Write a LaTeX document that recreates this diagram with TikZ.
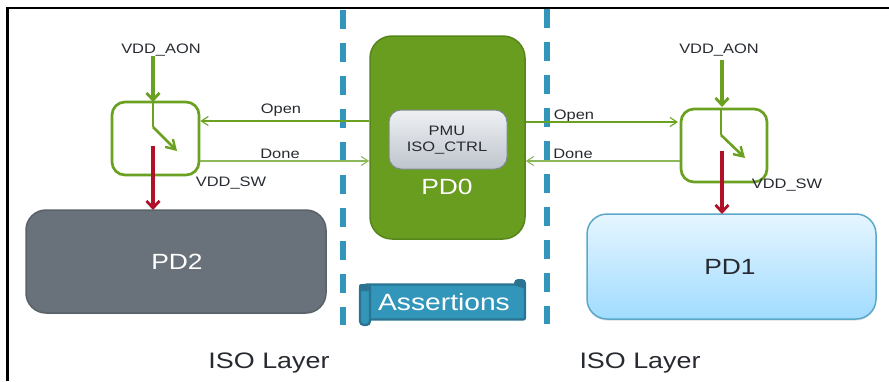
\documentclass[tikz,border=0pt]{standalone}
\usepackage{fontspec}
\setmainfont[FakeStretch=1.2]{Liberation Sans}
\usetikzlibrary{arrows.meta,shadows}
\definecolor{grn}{HTML}{6AA121}
\definecolor{grnlt}{HTML}{8DB85A}
\definecolor{pdgrn}{HTML}{699D1F}
\definecolor{pdgrnE}{HTML}{56851A}
\definecolor{slate}{HTML}{69727A}
\definecolor{slateE}{HTML}{596268}
\definecolor{blu}{HTML}{3296BA}
\definecolor{bluD}{HTML}{2A7391}
\definecolor{redd}{HTML}{B01028}
\definecolor{txt}{HTML}{262A30}
\definecolor{skyT}{HTML}{E6F5FF}
\definecolor{skyB}{HTML}{A0DCFF}
\definecolor{skyE}{HTML}{5BA8C8}
\definecolor{pmuT}{HTML}{EEF0F3}
\definecolor{pmuB}{HTML}{BFC5CD}
\definecolor{pmuE}{HTML}{7F8890}
\tikzset{
  x=1pt,y=-1pt,
  lbl/.style={anchor=base,inner sep=0pt,text=txt,font=\fontsize{13.7}{15}\selectfont},
  big/.style={anchor=base,inner sep=0pt,font=\fontsize{22}{24}\selectfont},
  iso/.style={anchor=base,inner sep=0pt,text=txt,font=\fontsize{22.4}{26}\selectfont},
  swbox/.style={draw=grn,line width=2.7pt,rounded corners=13pt,fill=white,inner sep=0pt},
  pd/.style={rounded corners=20pt,inner sep=0pt,line width=1.5pt},
  thin arr/.style={draw=grn,line width=1.3pt,-{Straight Barb[length=7pt,width=9pt,line width=1.1pt]}},
  thin done/.style={draw=grnlt,line width=1.5pt,-{Straight Barb[length=7pt,width=9pt,line width=1.1pt]}},
  pwr/.style={draw=grn,line width=3.4pt,-{Straight Barb[length=7pt,width=13pt,line width=2.8pt]}},
  red arr/.style={draw=redd,line width=3.4pt,-{Straight Barb[length=7pt,width=13pt,line width=2.8pt]}},
  sep/.style={draw=blu,line width=6pt,dash pattern=on 19pt off 14pt},
}
\begin{document}
\begin{tikzpicture}
\useasboundingbox (0,0) rectangle (889,381);
% frame
\draw[line width=2.4pt,line cap=butt] (7.5,381) -- (7.5,8) -- (889,8);
% separators
\coordinate (sepLa) at (342.5,10);
\coordinate (sepLb) at (342.5,325);
\coordinate (sepRa) at (546.5,9);
\coordinate (sepRb) at (546.5,324);
\draw[sep] (sepLa) -- (sepLb);
\draw[sep] (sepRa) -- (sepRb);
% power domains
\node[pd,draw=pdgrnE,fill=pdgrn,minimum width=155pt,minimum height=203pt,rounded corners=22pt] (pd0) at (447.5,137.5) {};
\node[pd,draw=slateE,fill=slate,minimum width=300pt,minimum height=103pt] (pd2) at (176,261.5) {};
\node[pd,draw=skyE,top color=skyT,bottom color=skyB,minimum width=289pt,minimum height=105pt,drop shadow={shadow xshift=0pt,shadow yshift=-1.5pt,opacity=.25}] (pd1) at (731.5,266.5) {};
\node[pd,draw=pmuE,line width=1pt,top color=pmuT,bottom color=pmuB,minimum width=118pt,minimum height=59pt,rounded corners=12pt] (pmu) at (448,139.5) {};
% switch boxes
\node[swbox,minimum width=87pt,minimum height=73pt] (swL) at (155.5,138.5) {};
\node[swbox,minimum width=86pt,minimum height=73pt] (swR) at (724,145.5) {};
% texts
\node[big,text=white] (pd0t) at (447,194.5) {PD0};
\node[big,text=white] (pd2t) at (177,269.5) {PD2};
\node[big,text=txt] (pd1t) at (730,274.5) {PD1};
\node[lbl] (pmu1) at (447,135) {PMU};
\node[lbl] (pmu2) at (447,151) {ISO\_CTRL};
\node[lbl] (aonL) at (161,53) {VDD\_AON};
\node[lbl] (aonR) at (719,53) {VDD\_AON};
\node[lbl] (swlL) at (231,186) {VDD\_SW};
\node[lbl] (swlR) at (787,188) {VDD\_SW};
\node[lbl] (openL) at (281,113) {Open};
\node[lbl] (doneL) at (280,158) {Done};
\node[lbl] (openR) at (574,119) {Open};
\node[lbl] (doneR) at (573,158) {Done};
\node[iso] (isoL) at (269,368.5) {ISO Layer};
\node[iso] (isoR) at (640,368.5) {ISO Layer};
% scroll
\draw[draw=bluD,line width=2.4pt,fill=blu,rounded corners=2pt] (365,284.5) -- (525,284.5) -- (525,319.5) -- (365,319.5) -- cycle;
\fill[bluD,rounded corners=4pt] (514,286) -- (514,279) -- (526,279) -- (526,290) -- (522,287) -- cycle;
\draw[draw=bluD,line width=2.4pt,fill=blu,rounded corners=4pt] (360,285) -- (370,285) -- (370,325) -- (360,325) -- cycle;
\fill[bluD,rounded corners=2pt] (359,284) rectangle (371,291);
\node[iso,text=white,font=\fontsize{23.5}{26}\selectfont] (asrt) at (444,310) {Assertions};
% left connectors
\coordinate (topL) at (153,56);
\coordinate (hitL) at (153,102);
\coordinate (kneeL) at (153,127);
\coordinate (tipL) at (177,151);
\coordinate (redaL) at (153,146);
\coordinate (redbL) at (153,210);
\draw[pwr] (topL) -- (hitL);
\draw[grn,line width=2.6pt] (hitL) -- (kneeL);
\draw[draw=grn,line width=2.6pt,-{Straight Barb[length=9pt,width=11pt,line width=2.4pt]}] (kneeL) -- (tipL);
\draw[red arr] (redaL) -- (redbL);
\coordinate (oL) at (pd0.west |- 0,121);
\coordinate (oLe) at (swL.east |- 0,121);
\coordinate (dL) at (swL.east |- 0,161);
\coordinate (dLe) at (pd0.west |- 0,161);
\draw[thin arr] (oL) -- (oLe);
\draw[thin done] (dL) -- (dLe);
% right connectors
\coordinate (topR) at (722,60);
\coordinate (hitR) at (722,107);
\coordinate (sR) at (721,109);
\coordinate (kneeR) at (721,135);
\coordinate (tipR) at (745,158);
\coordinate (redaR) at (722,151);
\coordinate (redbR) at (722,214);
\draw[pwr] (topR) -- (hitR);
\draw[grn,line width=2.6pt] (sR) -- (kneeR);
\draw[draw=grn,line width=2.6pt,-{Straight Barb[length=9pt,width=11pt,line width=2.4pt]}] (kneeR) -- (tipR);
\draw[red arr] (redaR) -- (redbR);
\coordinate (oR) at (pd0.east |- 0,122);
\coordinate (oRe) at (678,122);
\coordinate (dR) at (swR.west |- 0,161);
\coordinate (dRe) at (pd0.east |- 0,161);
\draw[thin arr] (oR) -- (oRe);
\draw[thin done] (dR) -- (dRe);
\end{tikzpicture}
\end{document}
